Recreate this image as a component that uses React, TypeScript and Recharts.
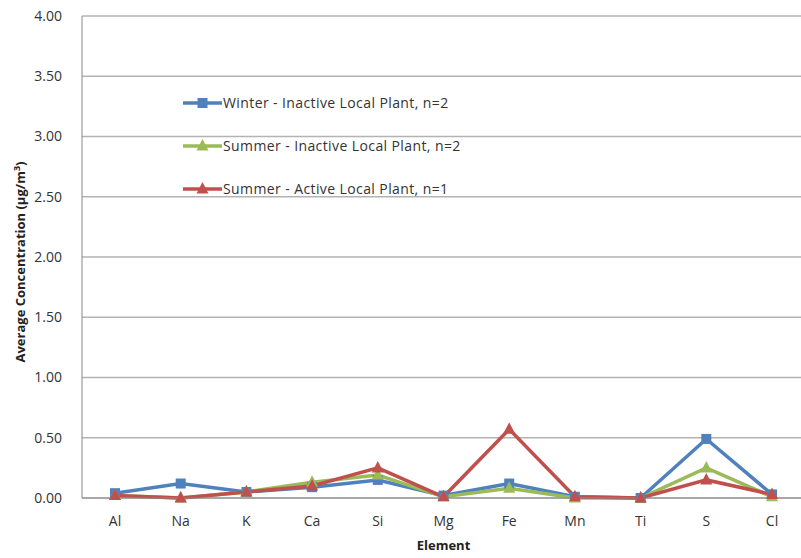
import React from "react";
import { CartesianGrid, Label, Legend, Line, LineChart, XAxis, YAxis } from "recharts";

const elements = ["Al", "Na", "K", "Ca", "Si", "Mg", "Fe", "Mn", "Ti", "S", "Cl"];
const winterInactive = [0.04, 0.12, 0.05, 0.09, 0.15, 0.02, 0.12, 0.01, 0.0, 0.49, 0.03];
const summerInactive = [0.02, 0.0, 0.05, 0.13, 0.19, 0.01, 0.08, 0.0, 0.0, 0.25, 0.01];
const summerActive = [0.02, 0.0, 0.05, 0.1, 0.25, 0.01, 0.57, 0.01, 0.0, 0.15, 0.03];
const yTicks = [0, 0.5, 1, 1.5, 2, 2.5, 3, 3.5, 4];

const series = [
  { key: "winterInactive", name: "Winter - Inactive Local Plant, n=2", color: "#4F81BD", shape: "square" },
  { key: "summerInactive", name: "Summer - Inactive Local Plant, n=2", color: "#9BBB59", shape: "triangle" },
  { key: "summerActive", name: "Summer - Active Local Plant, n=1", color: "#C0504D", shape: "triangle" },
];

const data = elements.map((el, i) => ({
  element: el,
  winterInactive: winterInactive[i],
  summerInactive: summerInactive[i],
  summerActive: summerActive[i],
}));

const FONT = "'Open Sans', 'Noto Sans', sans-serif";

function Marker({ cx, cy, color, shape }: { cx: number; cy: number; color: string; shape: string }) {
  if (cx == null || cy == null) return null;
  if (shape === "square") {
    return <rect x={cx - 5} y={cy - 5} width={10} height={10} fill={color} />;
  }
  return <path d={`M${cx},${cy - 7} L${cx + 6},${cy + 4.5} L${cx - 6},${cy + 4.5} Z`} fill={color} />;
}

function makeDot(color: string, shape: string) {
  return (props: any) => <Marker key={`${color}-${props.index}`} cx={props.cx} cy={props.cy} color={color} shape={shape} />;
}

function LegendBox() {
  return (
    <div style={{ fontFamily: FONT, fontSize: 14, letterSpacing: 0.4, color: "#333" }}>
      {series.map((s) => (
        <div key={s.key} style={{ display: "flex", alignItems: "center", height: 43 }}>
          <svg width={39} height={16}>
            <line x1={0} y1={8} x2={39} y2={8} stroke={s.color} strokeWidth={3.5} />
            <Marker cx={19.5} cy={8} color={s.color} shape={s.shape} />
          </svg>
          <span style={{ marginLeft: 1 }}>{s.name}</span>
        </div>
      ))}
    </div>
  );
}

export default function App() {
  return (
    <div style={{ position: "fixed", left: 0, top: 0, width: 801, height: 558, overflow: "hidden", background: "#fff" }}>
      <LineChart width={812} height={558} data={data} margin={{ top: 16, right: 7, bottom: 30, left: 0 }}>
        <CartesianGrid vertical={false} stroke="#b3b3b3" strokeWidth={1.5} />
        <XAxis
          dataKey="element"
          stroke="#888"
          tickLine={false}
          padding={{ left: 33, right: 33 }}
          tick={{ fill: "#333", fontSize: 14, fontFamily: FONT }}
          tickMargin={12}
        >
          <Label value="Element" position="insideBottom" offset={-22} style={{ fontFamily: FONT, fontSize: 13, fontWeight: 700, fill: "#222" }} />
        </XAxis>
        <YAxis
          width={82}
          domain={[0, 4]}
          ticks={yTicks}
          stroke="#888"
          tickLine={false}
          tickFormatter={(v: number) => v.toFixed(2)}
          tick={{ fill: "#333", fontSize: 14, fontFamily: FONT }}
          tickMargin={14}
        >
          <Label
            content={() => (
              <text x={25} y={262} transform="rotate(-90 25 262)" textAnchor="middle" style={{ fontFamily: FONT, fontSize: 13, fontWeight: 700, fill: "#222" }}>
                Average Concentration (µg/m<tspan dy={-5} fontSize={9}>3</tspan>
                <tspan dy={5}>)</tspan>
              </text>
            )}
          />
        </YAxis>
        <Legend
          layout="vertical"
          verticalAlign="middle"
          align="center"
          content={() => <LegendBox />}
          wrapperStyle={{ left: 183, top: 81, width: 340 }}
        />
        {series.map((s) => (
          <Line
            key={s.key}
            type="linear"
            dataKey={s.key}
            name={s.name}
            stroke={s.color}
            strokeWidth={3.5}
            dot={makeDot(s.color, s.shape)}
            activeDot={false}
            isAnimationActive={false}
          />
        ))}
      </LineChart>
    </div>
  );
}
